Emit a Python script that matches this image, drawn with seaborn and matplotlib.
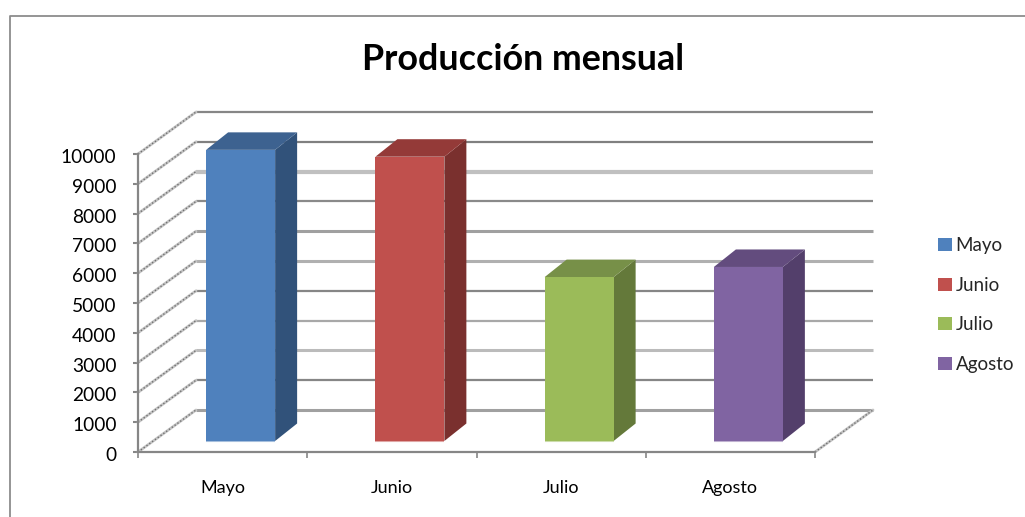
import matplotlib
matplotlib.use("Agg")
import matplotlib.pyplot as plt
from matplotlib.lines import Line2D
from matplotlib.transforms import ScaledTranslation
import pandas as pd
import seaborn as sns

# ---- data ----
months = ["Mayo", "Junio", "Julio", "Agosto"]
production = [9770, 9540, 5500, 5840]
y_ticks = [0, 1000, 2000, 3000, 4000, 5000, 6000, 7000, 8000, 9000, 10000]
title_text = "Producción mensual"

# ---- styles ----
front_colors = ["#4F81BD", "#C0504D", "#9BBB59", "#8064A2"]
side_colors = ["#31527A", "#7A302E", "#64793A", "#533F6B"]
top_colors = ["#3D6290", "#943A38", "#779048", "#634C7E"]
grid_colors = ["#A0A0A0", "#868686", "#BBBBBB", "#A8A8A8", "#868686", "#B0B0B0",
               "#A0A0A0", "#8A8A8A", "#C0C0C0", "#808080", "#868686"]
grid_widths = [2.2, 1.6, 2.2, 1.6, 1.6, 2.2, 2.2, 1.6, 3.0, 1.6, 1.6]
FONT = "Lato"

W, H = 1025, 517
X0, X1, Y0, Y1 = 138, 815, 452, 154          # front plane, pixels
BAR_DX, BAR_DY = 18, 11                      # bar plane shift from the front plane
WALL_DX, WALL_DY = 58, 42                    # back wall shift
FACE_DX, FACE_DY = 22, 17.5                  # bar depth

sns.set_theme(style="white")
plt.rcParams["font.family"] = [FONT, "DejaVu Sans"]
fig = plt.figure(figsize=(W / 100, H / 100), dpi=100, facecolor="white")


def rect(x0, x1, y0, y1):
    return [x0 / W, (H - y0) / H, (x1 - x0) / W, (y0 - y1) / H]


ax = fig.add_axes(rect(X0, X1, Y0, Y1))
bx = fig.add_axes(rect(X0 + BAR_DX, X1 + BAR_DX, Y0 - BAR_DY, Y1 - BAR_DY))
for a in (ax, bx):
    a.patch.set_visible(False)

xspan = (X1 - X0) / len(months)
yscale = 10000 / (Y0 - Y1)
wall_dx, wall_dy = WALL_DX / xspan, WALL_DY * yscale
face_dx, face_dy = FACE_DX / xspan, FACE_DY * yscale

# ---- frame axes ----
ax.set_xlim(-0.5, len(months) - 0.5)
ax.set_ylim(0, 10000)
ax.set_yticks(y_ticks)
ax.set_xticks(range(len(months)))
ax.set_xticklabels(months)
ax.set_xticks([i - 0.5 for i in range(len(months) + 1)], minor=True)
ax.tick_params(axis="x", which="major", length=0, pad=20, labelsize=13, labelcolor="black")
ax.tick_params(axis="x", which="minor", length=4.5, width=1.2, color="#868686", bottom=True)
ax.tick_params(axis="y", length=3.5, width=1.5, color="#868686", pad=12, labelsize=13.8, labelcolor="black", left=True)
nudge = ScaledTranslation(0, -1.5 / 72, fig.dpi_scale_trans)
for lab in ax.get_yticklabels():
    lab.set_transform(lab.get_transform() + nudge)
for s in ("top", "right"):
    ax.spines[s].set_visible(False)
for s in ("left", "bottom"):
    ax.spines[s].set_color("#868686")
    ax.spines[s].set_linewidth(1.6)

# back wall gridlines and side-wall diagonals
xl = -0.5
xr = len(months) - 0.5
for v, c, lw in zip(y_ticks, grid_colors, grid_widths):
    ax.plot([xl + wall_dx, xr + wall_dx], [v + wall_dy] * 2, color=c, lw=lw,
            clip_on=False, solid_capstyle="butt", zorder=1)
    ax.plot([xl, xl + wall_dx], [v, v + wall_dy], color="#C4C4C4", lw=2.0, clip_on=False, zorder=1)
    ax.plot([xl, xl + wall_dx], [v, v + wall_dy], color="#707070", lw=1.0, ls=(0, (1, 1.5)),
            clip_on=False, zorder=1)
ax.plot([xr, xr + wall_dx], [0, wall_dy], color="#C4C4C4", lw=2.0, clip_on=False, zorder=1)
ax.plot([xr, xr + wall_dx], [0, wall_dy], color="#707070", lw=1.0, ls=(0, (1, 1.5)), clip_on=False, zorder=1)

# ---- bars ----
df = pd.DataFrame({"mes": months, "valor": production})
sns.barplot(data=df, x="mes", y="valor", hue="mes", hue_order=months, order=months,
            palette=front_colors, dodge=False, width=69 / xspan, saturation=1,
            ax=bx, legend=True, linewidth=0, zorder=5)
bx.set_xlim(-0.5, len(months) - 0.5)
bx.set_ylim(0, 10000)
bars = sorted(bx.patches, key=lambda p: p.get_x())
bars = [b for b in bars if b.get_width() > 0 and b.get_height() > 0]
for b, cs, ct, cf in zip(bars, side_colors, top_colors, front_colors):
    x0, x1 = b.get_x(), b.get_x() + b.get_width()
    h = b.get_height()
    bx.fill([x1, x1 + face_dx, x1 + face_dx, x1], [0, face_dy, h + face_dy, h],
            color=cs, lw=0, clip_on=False, zorder=4)
    bx.fill([x0, x1, x1 + face_dx, x0 + face_dx], [h, h, h + face_dy, h + face_dy],
            color=ct, lw=0, clip_on=False, zorder=4)
    bx.plot([x0, x1], [0, 0], color=cf, alpha=0.5, lw=1.5, clip_on=False, zorder=6,
            solid_capstyle="butt")
    b.set_clip_on(False)
bx.set_axis_off()

# ---- legend ----
handles = bx.get_legend().legend_handles
bx.get_legend().remove()
fig.legend(handles, months, loc="center left", bbox_to_anchor=(938 / W, (H - 305) / H),
           frameon=False, fontsize=13.5, handlelength=0.72, handleheight=0.72,
           handletextpad=0.22, labelspacing=1.2, borderpad=0, borderaxespad=0)

# ---- title and outer frame ----
fig.text(523 / W, (H - 60) / H, title_text, ha="center", va="center",
         fontsize=25.8, fontweight="bold", color="black")
fig.add_artist(Line2D([10 / W, 10 / W, 1], [0, (H - 16) / H, (H - 16) / H],
                      color="#8C8C8C", lw=1.3, transform=fig.transFigure))

fig.savefig("out.png", dpi=100)
